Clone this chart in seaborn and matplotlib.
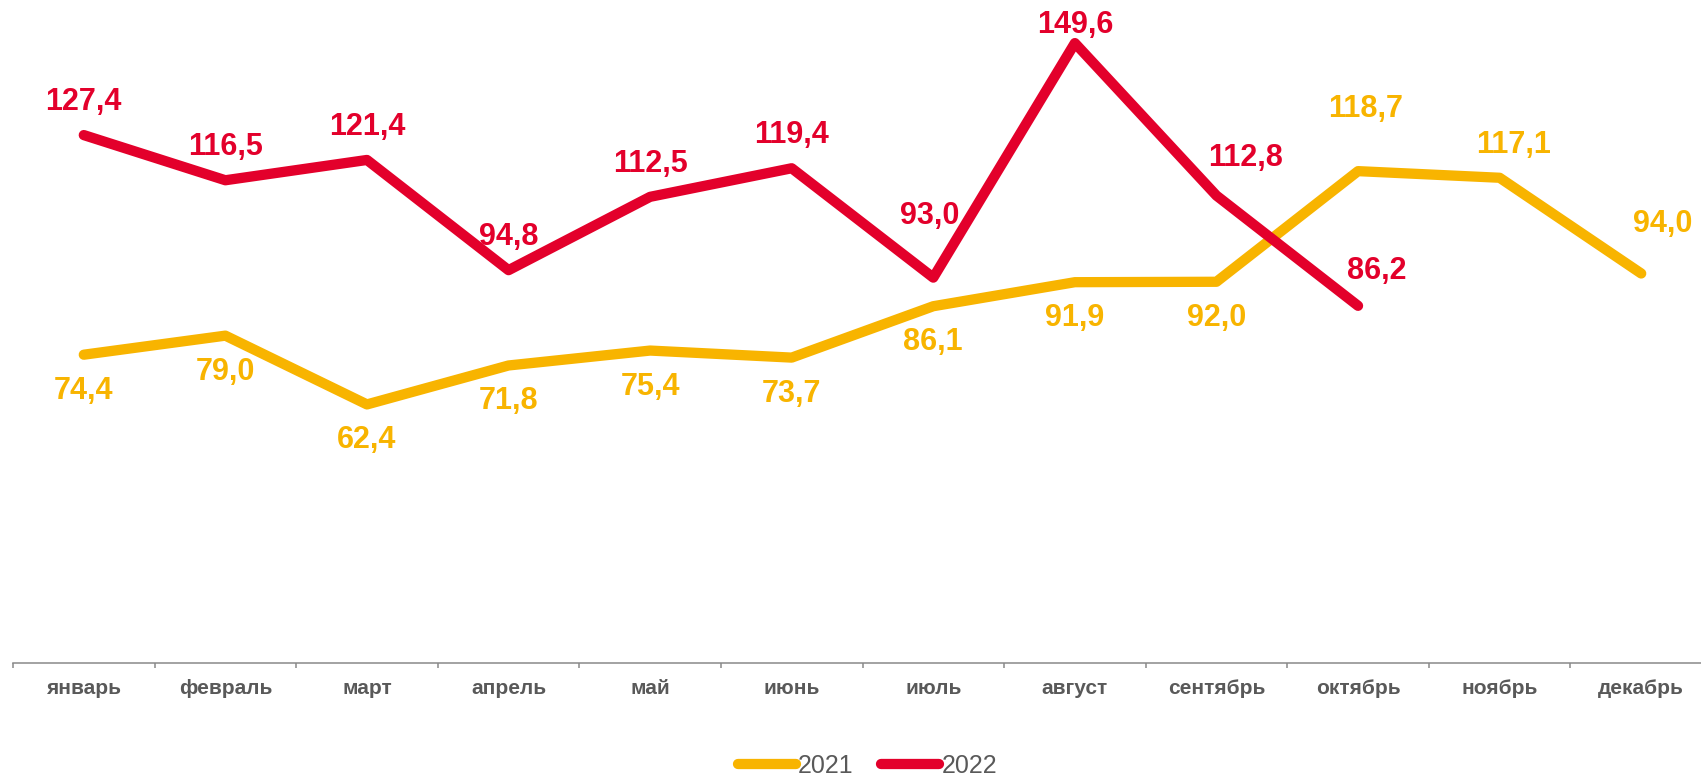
import matplotlib
matplotlib.use("Agg")
import matplotlib.pyplot as plt
import seaborn as sns
import pandas as pd
import numpy as np

# month names (x axis)
months = ["январь", "февраль", "март", "апрель", "май", "июнь",
          "июль", "август", "сентябрь", "октябрь", "ноябрь", "декабрь"]

values_2021 = [74.4, 79.0, 62.4, 71.8, 75.4, 73.7, 86.1, 91.9, 92.0, 118.7, 117.1, 94.0]
values_2022 = [127.4, 116.5, 121.4, 94.8, 112.5, 119.4, 93.0, 149.6, 112.8, 86.2]

years = ["2021", "2022"]
colors = {"2021": "#F8B400", "2022": "#E3002B"}

# label offsets in pixels (dx, dy) - placement only
offsets_2021 = [(0, -36)] * 9 + [(8, 62), (14, 33), (21, 49)]
offsets_2022 = [(0, 33)] * 6 + [(-4, 62), (0, 18), (29, 38), (19, 35)]

df = pd.concat([
    pd.DataFrame({"month": np.arange(len(values_2021)), "value": values_2021, "year": "2021"}),
    pd.DataFrame({"month": np.arange(len(values_2022)), "value": values_2022, "year": "2022"}),
])

sns.set_theme(style="white")
plt.rcParams["font.family"] = ["Liberation Sans", "DejaVu Sans"]

fig = plt.figure(figsize=(17.01, 7.76), dpi=100)
ax = fig.add_axes([13 / 1701, 113 / 776, 1699 / 1701, 663 / 776])

sns.lineplot(data=df, x="month", y="value", hue="year", palette=colors,
             linewidth=7.4, ax=ax, legend=False, sort=False)
for line in ax.get_lines():
    line.set_solid_capstyle("round")
    line.set_solid_joinstyle("round")

# data labels, decimal comma
for vals, offs, yr in [(values_2021, offsets_2021, "2021"), (values_2022, offsets_2022, "2022")]:
    for i, (v, (dx, dy)) in enumerate(zip(vals, offs)):
        ax.annotate(f"{v:.1f}".replace(".", ","), (i, v), xytext=(dx, dy),
                    textcoords="offset pixels", ha="center", va="center",
                    fontsize=22, fontweight="bold", color=colors[yr])

ax.set_xlim(-0.5, 11.5)
ax.set_ylim(0, 160)
ax.set_xticks(range(len(months)))
ax.set_xticklabels(months, fontsize=15, fontweight="bold", color="#595959")
ax.set_xticks(np.arange(-0.5, 12, 1), minor=True)
ax.tick_params(axis="x", which="major", bottom=True, length=0, pad=11.5)
ax.tick_params(axis="x", which="minor", bottom=True, length=3.6, width=1.1,
               color="#898989", direction="out")
ax.set_yticks([])
ax.set_xlabel("")
ax.set_ylabel("")
for s in ["top", "right", "left"]:
    ax.spines[s].set_visible(False)
ax.spines["bottom"].set_color("#898989")
ax.spines["bottom"].set_linewidth(1.1)

handles = [plt.Line2D([], [], color=colors[y], linewidth=7.4, solid_capstyle="round") for y in years]
leg = fig.legend(handles, years, loc="center", bbox_to_anchor=(0.51, 10 / 776), ncol=2,
                 frameon=False, fontsize=18, handlelength=2.3, handletextpad=0.1,
                 columnspacing=1.1, borderaxespad=0)
for t in leg.get_texts():
    t.set_color("#595959")

fig.savefig("out.png", dpi=100)
